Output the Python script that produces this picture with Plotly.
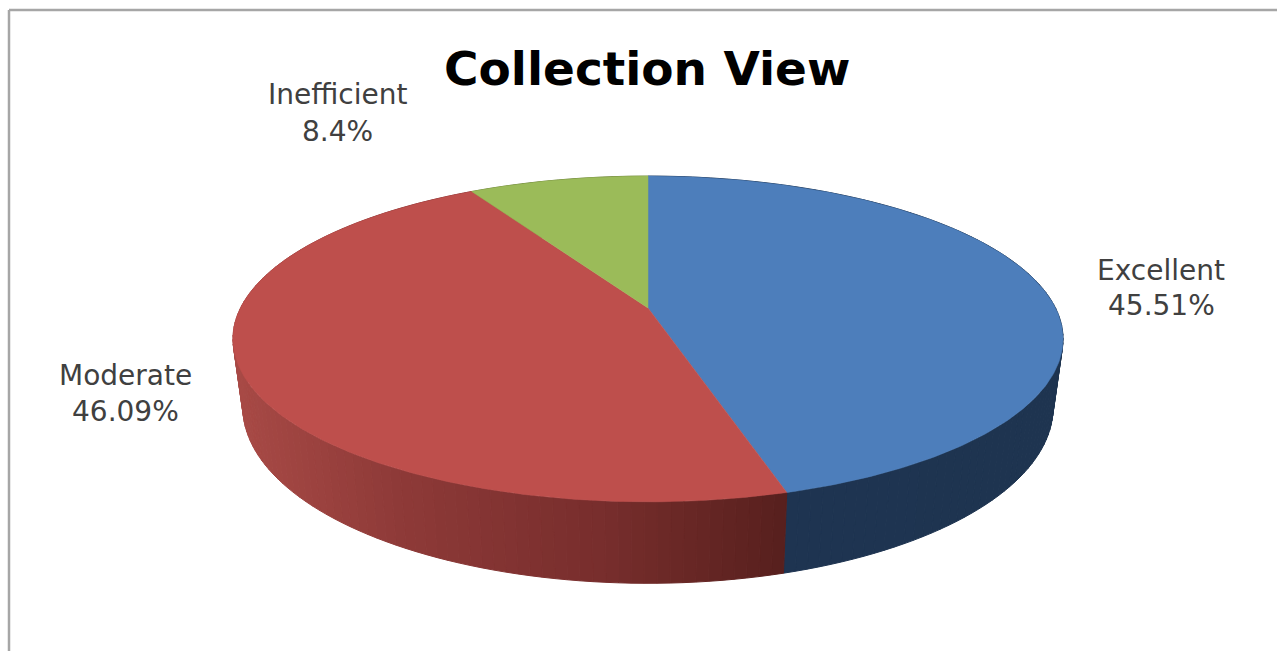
import numpy as np
import plotly.graph_objects as go

title = "Collection View"
categories = ["Excellent", "Moderate", "Inefficient"]
values = [45.51, 46.09, 8.4]
value_labels = ["45.51%", "46.09%", "8.4%"]
top_colors = ["#4d7ebb", "#be4f4c", "#9bbb59"]

# pie projection (pixels of the page)
CX, CY, A, B, K = 648, 308, 407.5, 157, 0.19
DEPTH, BOTTOM_SCALE = 66, 0.976
label_pos = {"Excellent": (1161, 270, 305), "Moderate": (125, 375, 411), "Inefficient": (337, 94, 131)}
side_stops = {
    "Excellent": [(780, (30, 52, 82)), (1060, (30, 52, 80))],
    "Moderate": [(235, (168, 74, 70)), (400, (142, 58, 56)), (600, (120, 46, 45)), (785, (88, 32, 30))],
    "Inefficient": [(470, (110, 130, 60)), (650, (110, 130, 60))],
}


def project(frac, bottom=False):
    t = 2 * np.pi * np.asarray(frac)
    u, v = np.sin(t), np.cos(t)
    w = 1 + K * v
    x = A * u / w
    y = -B * v / w
    if bottom:
        return CX + x * BOTTOM_SCALE, CY + y + DEPTH / w
    return CX + x, CY + y


def side_color(name, x):
    stops = side_stops[name]
    xs = [s[0] for s in stops]
    rgb = [int(np.interp(x, xs, [s[1][i] for s in stops])) for i in range(3)]
    return f"rgb({rgb[0]},{rgb[1]},{rgb[2]})"


fig = go.Figure()
total = sum(values)
edges = np.cumsum([0] + values) / total

# side wall, one thin band per arc step
for name, f0, f1 in zip(categories, edges[:-1], edges[1:]):
    steps = max(4, int((f1 - f0) * 240))
    grid = np.linspace(f0, f1, steps + 1)
    for a, b in zip(grid[:-1], grid[1:]):
        sub = np.linspace(a, b, 4)
        xt, yt = project(sub)
        xb, yb = project(sub, bottom=True)
        xs = np.r_[xt, xb[::-1], xt[0]]
        ys = np.r_[yt, yb[::-1], yt[0]]
        c = side_color(name, xt.mean())
        fig.add_trace(go.Scatter(x=xs, y=ys, mode="lines", fill="toself", fillcolor=c,
                                 line=dict(color=c, width=1), hoverinfo="skip", showlegend=False))

# top face
for name, f0, f1, col in zip(categories, edges[:-1], edges[1:], top_colors):
    xa, ya = project(np.linspace(f0, f1, 240))
    fig.add_trace(go.Scatter(x=np.r_[CX, xa, CX], y=np.r_[CY, ya, CY], mode="lines", fill="toself",
                             fillcolor=col, line=dict(color=col, width=0.5), name=name,
                             hoverinfo="name", showlegend=False))

ann = []
for name, vl in zip(categories, value_labels):
    lx, y1, y2 = label_pos[name]
    for txt, yy in ((name, y1), (vl, y2)):
        ann.append(dict(x=lx, y=yy, xref="x", yref="y", text=txt, showarrow=False,
                        xanchor="center", yanchor="middle",
                        font=dict(family="DejaVu Sans", size=28, color="#404040")))
ann.append(dict(x=647, y=68, xref="x", yref="y", text=title, showarrow=False, xanchor="center",
                yanchor="middle", font=dict(family="DejaVu Sans", size=47, color="#000000", weight="bold")))

frame = dict(type="line", xref="x", yref="y", line=dict(color="#a6a6a6", width=2.5))
fig.update_layout(
    width=1277, height=651, margin=dict(l=0, r=0, t=0, b=0),
    paper_bgcolor="white", plot_bgcolor="white", annotations=ann,
    xaxis=dict(range=[0, 1277], visible=False, fixedrange=True),
    yaxis=dict(range=[651, 0], visible=False, fixedrange=True),
    shapes=[dict(frame, x0=9, x1=1277, y0=10, y1=10), dict(frame, x0=9, x1=9, y0=10, y1=651)],
)
fig.write_html("out.html", config={"displayModeBar": False},
               post_script="document.body.style.margin='0';")
